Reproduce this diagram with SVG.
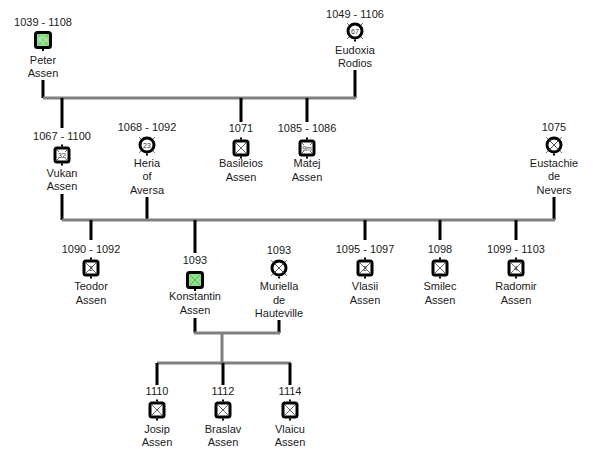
<svg xmlns="http://www.w3.org/2000/svg" width="593" height="463" viewBox="0 0 593 463">
<style>
text{font-family:"Liberation Sans",Arial,sans-serif;font-size:11px;fill:#1a1a1a;text-anchor:middle}
.age{font-size:7px;fill:#333}
.g{stroke:#808080;stroke-width:3;fill:none}
.b{stroke:#000;stroke-width:3;fill:none}
</style>
<defs>
<symbol id="sq" overflow="visible">
<rect x="-7" y="-7" width="14" height="14" rx="2" fill="#fff" stroke="#000" stroke-width="3"/>
<path d="M-5,-5L5,5M5,-5L-5,5" stroke="#666" stroke-width="1"/>
<rect x="-1" y="-10.5" width="2" height="2" fill="#000"/>
<rect x="-1" y="8.5" width="2" height="2" fill="#000"/>
</symbol>
<symbol id="sqg" overflow="visible">
<rect x="-7.5" y="-7.5" width="15" height="15" rx="2" fill="#8ee08e" stroke="#000" stroke-width="3"/>
<path d="M-5.5,-5.5L5.5,5.5M5.5,-5.5L-5.5,5.5" stroke="#5cb85c" stroke-width="1"/>
<rect x="-1" y="8.5" width="2" height="2.5" fill="#000"/>
</symbol>
<symbol id="ci" overflow="visible">
<path d="M-8,-8L8,8M8,-8L-8,8" stroke="#777" stroke-width="1"/>
<circle r="7" fill="#fff" stroke="#000" stroke-width="3"/>
<path d="M-4.5,-4.5L4.5,4.5M4.5,-4.5L-4.5,4.5" stroke="#555" stroke-width="1"/>
<rect x="-1" y="8.5" width="2" height="2" fill="#000"/>
</symbol>
<symbol id="cia" overflow="visible">
<path d="M-8,-8L8,8M8,-8L-8,8" stroke="#777" stroke-width="1"/>
<circle r="7" fill="#fff" stroke="#000" stroke-width="3"/>
<rect x="-1" y="8.5" width="2" height="2" fill="#000"/>
</symbol>
<symbol id="sqa" overflow="visible">
<rect x="-7" y="-7" width="14" height="14" rx="2" fill="#fff" stroke="#000" stroke-width="3"/>
<path d="M-5,-5L-3,-3M5,-5L3,-3M-5,5L-3,3M5,5L3,3" stroke="#666" stroke-width="1"/>
<rect x="-1" y="-10.5" width="2" height="2" fill="#000"/>
<rect x="-1" y="8.5" width="2" height="2" fill="#000"/>
</symbol>
</defs>

<g id="connectors">
<path class="b" d="M43,80V98M355,70V98"/>
<path class="g" d="M43,98H356"/>
<path class="b" d="M62,98V128M241,98V122M307,98V122"/>
<path class="b" d="M62,194V220M147,197V220M554,197V220"/>
<path class="g" d="M62,220H555"/>
<path class="b" d="M91,220V240M195,220V253M365,220V240M440,220V240M516,220V240"/>
<path class="b" d="M195,318V333M279,320V333"/>
<path class="g" d="M194,333H280M222,333V363M157,363H291"/>
<path class="b" d="M157,363V385M223,363V385M290,363V385"/>
</g>

<g id="peter"><text x="43" y="26">1039 - 1108</text><use href="#sqg" x="43" y="40"/><text class="age" x="43" y="42" style="fill:#c8f5c8">69</text><text x="43" y="64">Peter</text><text x="43" y="77">Assen</text></g>
<g id="eudoxia"><text x="355" y="18">1049 - 1106</text><use href="#cia" x="355" y="31"/><text class="age" x="355" y="33.5">67</text><text x="355" y="54">Eudoxia</text><text x="355" y="67">Rodios</text></g>

<g id="vukan"><text x="62" y="140">1067 - 1100</text><use href="#sqa" x="62" y="155"/><text class="age" x="62" y="157.5">32</text><text x="62" y="177">Vukan</text><text x="62" y="190">Assen</text></g>
<g id="heria"><text x="147" y="131">1068 - 1092</text><use href="#cia" x="147" y="145"/><text class="age" x="147" y="147.5">23</text><text x="147" y="167">Heria</text><text x="147" y="180">of</text><text x="147" y="194">Aversa</text></g>
<g id="basileios"><text x="241" y="132">1071</text><use href="#sq" x="241" y="148"/><text x="241" y="167">Basileios</text><text x="241" y="181">Assen</text></g>
<g id="matej"><text x="307" y="132">1085 - 1086</text><use href="#sqa" x="307" y="148"/><text class="age" x="307" y="150.5">9m</text><text x="307" y="167">Matej</text><text x="307" y="181">Assen</text></g>
<g id="eustachie"><text x="554" y="131">1075</text><use href="#ci" x="554" y="145"/><text x="554" y="167">Eustachie</text><text x="554" y="180">de</text><text x="554" y="194">Nevers</text></g>

<g id="teodor"><text x="91" y="253">1090 - 1092</text><use href="#sq" x="91" y="268"/><text class="age" x="91" y="270.5">2</text><text x="91" y="290">Teodor</text><text x="91" y="304">Assen</text></g>
<g id="konstantin"><text x="195" y="264">1093</text><use href="#sqg" x="195" y="280"/><text x="195" y="300">Konstantin</text><text x="195" y="314">Assen</text></g>
<g id="muriella"><text x="279" y="254">1093</text><use href="#ci" x="279" y="268"/><text x="279" y="290">Muriella</text><text x="279" y="304">de</text><text x="279" y="317">Hauteville</text></g>
<g id="vlasii"><text x="365" y="253">1095 - 1097</text><use href="#sq" x="365" y="268"/><text class="age" x="365" y="270.5">2</text><text x="365" y="290">Vlasii</text><text x="365" y="304">Assen</text></g>
<g id="smilec"><text x="440" y="253">1098</text><use href="#sq" x="440" y="268"/><text x="440" y="290">Smilec</text><text x="440" y="304">Assen</text></g>
<g id="radomir"><text x="516" y="253">1099 - 1103</text><use href="#sq" x="516" y="268"/><text class="age" x="516" y="270.5">4</text><text x="516" y="290">Radomir</text><text x="516" y="304">Assen</text></g>

<g id="josip"><text x="157" y="395">1110</text><use href="#sq" x="157" y="410"/><text x="157" y="433">Josip</text><text x="157" y="446">Assen</text></g>
<g id="braslav"><text x="223" y="395">1112</text><use href="#sq" x="223" y="410"/><text x="223" y="433">Braslav</text><text x="223" y="446">Assen</text></g>
<g id="vlaicu"><text x="290" y="395">1114</text><use href="#sq" x="290" y="410"/><text x="290" y="433">Vlaicu</text><text x="290" y="446">Assen</text></g>
</svg>
